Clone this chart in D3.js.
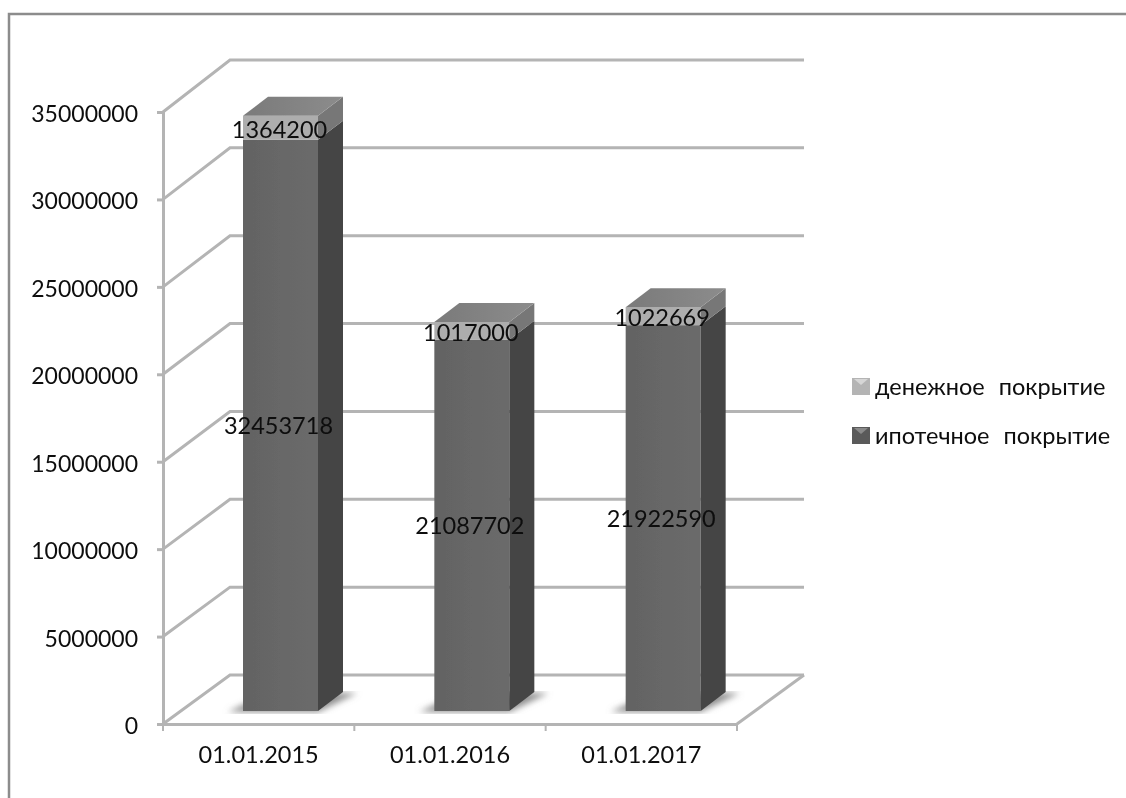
<!DOCTYPE html>
<html>
<head>
  <meta charset="utf-8">
  <script src="https://cdn.jsdelivr.net/npm/d3@7"></script>
  <style>
    html, body { margin: 0; padding: 0; background: #fff; }
    text { font-family: Lato, "Open Sans", sans-serif; fill: #0c0c0c; }
  </style>
</head>
<body>
<script>
  var categories = ['01.01.2015', '01.01.2016', '01.01.2017'];
  var mortgage = [32453718, 21087702, 21922590];
  var cash = [1364200, 1017000, 1022669];
  var yTicks = [0, 5000000, 10000000, 15000000, 20000000, 25000000, 30000000, 35000000];
  var legendLabels = ['денежное  покрытие', 'ипотечное  покрытие'];

  var width = 1126, height = 798;
  var plotLeft = 163, plotRight = 737, plotBottom = 724, plotTop = 112;
  var depthX = 67;                     // back wall offset
  var barDepthX = 25, barDepthY = -19; // bar's own depth
  var baseY = 711;                     // front edge of the bars on the floor

  var svg = d3.select('body').append('svg')
    .attr('width', width).attr('height', height)
    .style('display', 'block');

  var defs = svg.append('defs');
  defs.append('filter').attr('id', 'soft')
    .append('feGaussianBlur').attr('stdDeviation', 0.6);
  defs.append('filter').attr('id', 'text-soft')
    .append('feGaussianBlur').attr('stdDeviation', 0.3);
  defs.append('filter').attr('id', 'shadow')
    .append('feGaussianBlur').attr('stdDeviation', 3);
  var frontGrad = defs.append('linearGradient').attr('id', 'front');
  frontGrad.append('stop').attr('offset', 0).attr('stop-color', '#636363');
  frontGrad.append('stop').attr('offset', 1).attr('stop-color', '#6b6b6b');
  var topGrad = defs.append('linearGradient').attr('id', 'topface');
  topGrad.append('stop').attr('offset', 0).attr('stop-color', '#7a7a7a');
  topGrad.append('stop').attr('offset', 1).attr('stop-color', '#8c8c8c');

  var x = d3.scaleBand().domain(categories).range([plotLeft, plotRight]);
  var y = d3.scaleLinear().domain([0, 35000000]).range([plotBottom, plotTop]);
  var yBack = d3.scaleLinear().domain([0, 35000000]).range([675, 60]);
  var yBar = d3.scaleLinear().domain([0, 35000000]).range([baseY, baseY - 616]);

  // outer frame
  svg.append('path')
    .attr('d', 'M9,' + height + 'V14H' + width)
    .attr('fill', 'none').attr('stroke', '#8c8c8c').attr('stroke-width', 2.5);

  var chart = svg.append('g').attr('filter', 'url(#soft)');
  var gridColor = '#b4b4b4';

  // walls: side diagonals + back lines
  chart.append('g').selectAll('path').data(yTicks).enter().append('path')
    .attr('fill', 'none').attr('stroke', gridColor).attr('stroke-width', 3)
    .attr('d', function(d) {
      return 'M' + plotLeft + ',' + y(d) + 'L' + (plotLeft + depthX) + ',' + yBack(d) + 'H' + (plotRight + depthX);
    });

  // floor edge on the right
  chart.append('line')
    .attr('x1', plotRight).attr('y1', y(0))
    .attr('x2', plotRight + depthX).attr('y2', yBack(0))
    .attr('stroke', gridColor).attr('stroke-width', 3);

  // axes
  var yAxis = d3.axisLeft(y).tickValues(yTicks).tickFormat(d3.format('d')).tickSize(6).tickPadding(19);
  var gy = svg.append('g').attr('transform', 'translate(' + plotLeft + ',0)').attr('filter', 'url(#soft)').call(yAxis);
  var xAxis = d3.axisBottom(x).tickSize(0).tickPadding(22);
  var gx = svg.append('g').attr('transform', 'translate(0,' + plotBottom + ')').attr('filter', 'url(#soft)').call(xAxis);
  gy.selectAll('path,line').attr('stroke', gridColor).attr('stroke-width', 3);
  gx.select('path').attr('stroke', gridColor).attr('stroke-width', 3);
  gx.append('g').selectAll('line').data(d3.range(4)).enter().append('line')
    .attr('x1', function(i) { return plotLeft + i * x.bandwidth(); })
    .attr('x2', function(i) { return plotLeft + i * x.bandwidth(); })
    .attr('y1', 0).attr('y2', 7)
    .attr('stroke', gridColor).attr('stroke-width', 2);
  gy.attr('filter', null);
  gx.attr('filter', null);
  gy.selectAll('text').style('font-size', '23px').style('font-family', 'Lato')
    .attr('fill', '#0c0c0c').attr('dy', '0.41em').attr('filter', 'url(#text-soft)');
  gx.selectAll('text').style('font-size', '23.5px').style('font-family', 'Lato')
    .attr('fill', '#0c0c0c').attr('filter', 'url(#text-soft)');

  // bars
  var barW = 75, barOff = 80;
  var bars = chart.selectAll('g.bar').data(categories).enter().append('g').attr('class', 'bar');

  bars.each(function(c, i) {
    var g = d3.select(this);
    var x0 = x(c) + barOff, x1 = x0 + barW;
    var yMid = yBar(mortgage[i]);
    var yTop = yBar(mortgage[i] + cash[i]);
    var dx = barDepthX, dy = barDepthY;

    // floor shadow
    g.append('path')
      .attr('d', 'M' + (x0 - 15) + ',' + (baseY + 1) + 'H' + x1 + 'L' + (x1 + dx + 14) + ',' + (baseY + dy + 1) + 'H' + (x0 + dx) + 'Z')
      .attr('fill', '#8f8f8f').attr('filter', 'url(#shadow)');

    // mortgage part
    g.append('rect').attr('x', x0).attr('y', yMid).attr('width', barW).attr('height', baseY - yMid).attr('fill', 'url(#front)');
    g.append('path')
      .attr('d', 'M' + x1 + ',' + baseY + 'V' + yMid + 'l' + dx + ',' + dy + 'V' + (baseY + dy) + 'Z')
      .attr('fill', '#444');

    // cash part
    g.append('rect').attr('x', x0).attr('y', yTop).attr('width', barW).attr('height', yMid - yTop).attr('fill', '#adadad');
    g.append('path')
      .attr('d', 'M' + x1 + ',' + yMid + 'V' + yTop + 'l' + dx + ',' + dy + 'V' + (yMid + dy) + 'Z')
      .attr('fill', '#777');
    g.append('path')
      .attr('d', 'M' + x0 + ',' + yTop + 'h' + barW + 'l' + dx + ',' + dy + 'h' + (-barW) + 'Z')
      .attr('fill', 'url(#topface)');
  });

  // data labels
  var labels = svg.append('g').attr('font-size', 23.5).attr('text-anchor', 'middle').attr('filter', 'url(#text-soft)');
  categories.forEach(function(c, i) {
    var cx = x(c) + barOff + barW / 2;
    var yMid = yBar(mortgage[i]);
    var yTop = yBar(mortgage[i] + cash[i]);
    labels.append('text').attr('x', cx - 2).attr('y', (yMid + baseY) / 2 + 9).text(mortgage[i]);
    labels.append('text').attr('x', cx - 1).attr('y', (yTop + yMid) / 2 + 10).text(cash[i]);
  });

  // legend
  var legendColors = ['#b4b4b4', '#5a5a5a'];
  var legendTop = ['#d6d6d6', '#8a8a8a'];
  var legend = svg.append('g').selectAll('g').data(legendLabels).enter().append('g')
    .attr('transform', function(d, i) { return 'translate(852,' + (387 + i * 49) + ')'; });
  var keys = legend.append('g').attr('filter', 'url(#soft)');
  keys.append('rect').attr('x', 0).attr('y', -9).attr('width', 18).attr('height', 17)
    .attr('fill', function(d, i) { return legendColors[i]; });
  keys.append('path').attr('d', 'M2,-8H16L9,-2Z')
    .attr('fill', function(d, i) { return legendTop[i]; });
  legend.append('text').attr('x', 23).attr('y', 8).attr('font-size', 23.5)
    .attr('filter', 'url(#text-soft)')
    .style('white-space', 'pre').style('word-spacing', '1px').text(function(d) { return d; });
</script>
</body>
</html>
